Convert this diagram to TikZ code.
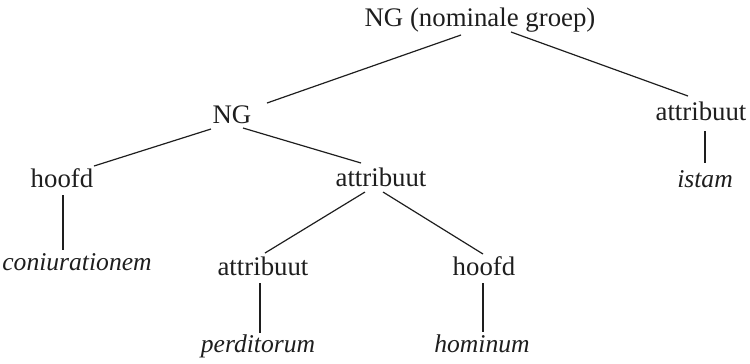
\documentclass[tikz,border=0pt]{standalone}
% Palatino when its metrics and outlines are present, a serif otherwise
\newif\ifpalladio
\IfFileExists{mathpazo.sty}{\IfFileExists{pplr8t.tfm}{\IfFileExists{uplr8a.pfb}{\palladiotrue}{}}{}}{}
\ifpalladio
  \usepackage[T1]{fontenc}
  \usepackage{mathpazo}
  \newcommand{\lblsize}{\fontsize{12bp}{14bp}\selectfont}
  \newcommand{\wordsize}{\fontsize{12bp}{14bp}\selectfont}
\else
  \usepackage{fontspec}
  \setmainfont{Liberation Serif}
  \newcommand{\lblsize}{\fontsize{13.4bp}{16bp}\selectfont}
  \newcommand{\wordsize}{\fontsize{12.8bp}{15bp}\selectfont}
\fi
\usetikzlibrary{calc}
\definecolor{ink}{HTML}{1E1E1E}
\tikzset{
  lbl/.style={anchor=base, inner sep=0pt, text=ink, font=\lblsize},
  word/.style={lbl, font=\wordsize\itshape},
  branch/.style={draw=ink, line width=0.6pt}
}
\begin{document}
\begin{tikzpicture}[x=0.5bp, y=-0.5bp]
\useasboundingbox (0,0) rectangle (750,363);

% tree labels
\node[lbl]  (top)   at (480,26)  {NG (nominale groep)};
\node[lbl]  (ng)    at (232,123) {NG};
\node[lbl]  (attrR) at (701,120) {attribuut};
\node[word] (istam) at (705,187) {istam};
\node[lbl]  (hfdA)  at (62,187)  {hoofd};
\node[lbl]  (attrM) at (381,186) {attribuut};
\node[word] (coni)  at (77,270)  {coniurationem};
\node[lbl]  (attrL) at (263,275) {attribuut};
\node[lbl]  (hfdB)  at (484,275) {hoofd};
\node[word] (perd)  at (258,352) {perditorum};
\node[word] (homi)  at (482,352) {hominum};

% branches
\draw[branch] ($(top.base)+(-19,9)$)  -- ($(ng.base)+(35,-20)$);
\draw[branch] ($(top.base)+(31,6)$)   -- ($(attrR.base)+(-13,-24)$);
\draw[branch] ($(attrR.base)+(4,11)$) -- ($(istam.base)+(0,-24)$);
\draw[branch] ($(ng.base)+(-21,6)$)   -- ($(hfdA.base)+(32,-21)$);
\draw[branch] ($(ng.base)+(11,5)$)    -- ($(attrM.base)+(-20,-23)$);
\draw[branch] ($(hfdA.base)+(1,8)$)   -- ($(coni.base)+(-14,-20)$);
\draw[branch] ($(attrM.base)+(-16,6)$) -- ($(attrL.base)+(2,-22)$);
\draw[branch] ($(attrM.base)+(2,6)$)  -- ($(hfdB.base)+(-1,-21)$);
\draw[branch] ($(attrL.base)+(-3,8)$) -- ($(perd.base)+(2,-19)$);
\draw[branch] ($(hfdB.base)+(-1,8)$)  -- ($(homi.base)+(1,-20)$);
\end{tikzpicture}
\end{document}
